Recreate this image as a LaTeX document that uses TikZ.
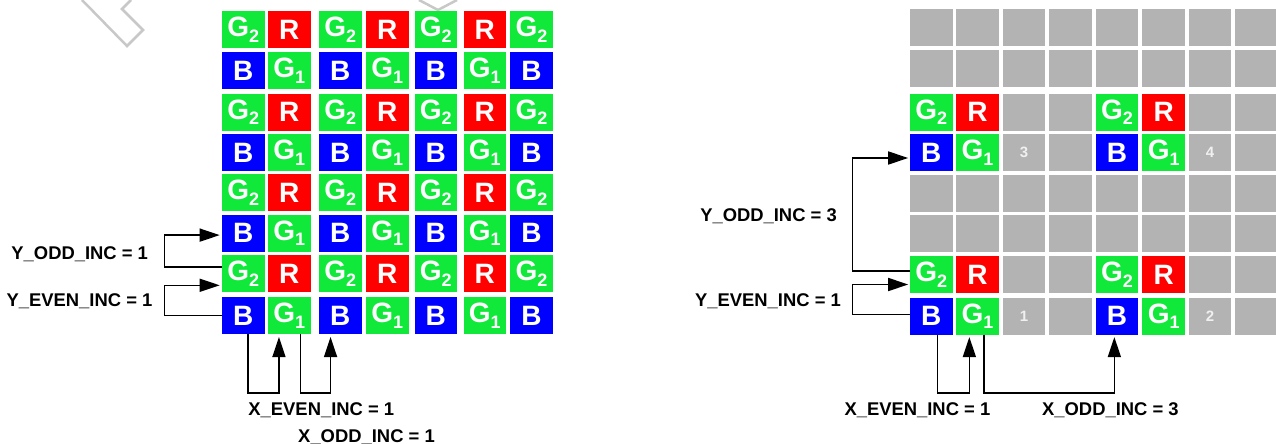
\documentclass[tikz,border=0pt]{standalone}
\usepackage{fontspec}
\setmainfont{Liberation Sans}
\usetikzlibrary{arrows.meta}
\definecolor{bgreen}{RGB}{16,232,58}
\definecolor{bred}{RGB}{255,0,0}
\definecolor{bblue}{RGB}{0,0,255}
\definecolor{bgray}{RGB}{179,179,179}
\definecolor{wmgray}{RGB}{200,200,200}
\newcommand\Gs[1]{G\raisebox{-5.5pt}{\fontsize{18}{18}\selectfont #1}}
\tikzset{
  cell/.style={minimum width=42.7pt, minimum height=37.2pt, inner sep=0pt, anchor=north west,
    text=white, font=\fontsize{28}{28}\selectfont\bfseries},
  cg/.style={cell, fill=bgreen},
  cr/.style={cell, fill=bred},
  cb/.style={cell, fill=bblue},
  cgr/.style={cell, fill=bgray, font=\fontsize{15}{15}\selectfont\bfseries, text=white!94!black},
  conn/.style={line width=1.5pt, -{Triangle[length=20pt,width=13pt]}},
  lbl/.style={font=\fontsize{18.4}{18.4}\selectfont\bfseries, anchor=base, inner sep=0pt},
  wm/.style={draw=wmgray, line width=2.5pt}
}
\begin{document}
\begin{tikzpicture}[x=1pt,y=-1pt]
\useasboundingbox (0,0) rectangle (1276,444);
% watermark fragments
\draw[wm] (82,0) -- (127,46) -- (143,30) -- (122,9) -- (131,0);
\draw[wm] (419,0) -- (438,10) -- (457,0);
% ---------- left grid ----------
\foreach \r/\y in {1/10.7,3/93.3,5/174,7/255}{
  \foreach \c/\x in {1/221.7,3/318.8,5/414.3,7/510}{\node[cg] (L\r\c) at (\x,\y) {\Gs{2}};}
  \foreach \c/\x in {2/267.8,4/365.7,6/463.3}{\node[cr] (L\r\c) at (\x,\y) {R};}
}
\foreach \r/\y in {2/51.7,4/134,6/214.3,8/296.7}{
  \foreach \c/\x in {1/221.7,3/318.8,5/414.3,7/510}{\node[cb] (L\r\c) at (\x,\y) {B};}
  \foreach \c/\x in {2/267.8,4/365.7,6/463.3}{\node[cg] (L\r\c) at (\x,\y) {\Gs{1}};}
}
% ---------- right grid ----------
\foreach \r/\y in {1/9,2/50,5/174.7,6/215}{
  \foreach \c/\x in {1/909.7,2/956,3/1002.4,4/1049.1,5/1095.5,6/1142.2,7/1188.5,8/1234.8}{
    \node[cgr] (R\r\c) at (\x,\y) {};}
}
\foreach \r/\y in {3/93.3,7/256}{
  \foreach \c/\x in {1/909.7,5/1095.5}{\node[cg] (R\r\c) at (\x,\y) {\Gs{2}};}
  \foreach \c/\x in {2/956,6/1142.2}{\node[cr] (R\r\c) at (\x,\y) {R};}
  \foreach \c/\x in {3/1002.4,4/1049.1,7/1188.5,8/1234.8}{\node[cgr] (R\r\c) at (\x,\y) {};}
}
\foreach \r/\y/\na/\nb in {4/134/3/4,8/297.3/1/2}{
  \foreach \c/\x in {1/909.7,5/1095.5}{\node[cb] (R\r\c) at (\x,\y) {B};}
  \foreach \c/\x in {2/956,6/1142.2}{\node[cg] (R\r\c) at (\x,\y) {\Gs{1}};}
  \node[cgr] (R\r3) at (1002.4,\y) {\na};
  \node[cgr] (R\r4) at (1049.1,\y) {};
  \node[cgr] (R\r7) at (1188.5,\y) {\nb};
  \node[cgr] (R\r8) at (1234.8,\y) {};
}
% ---------- left connectors ----------
\draw[conn, shorten >=2pt] ([yshift=6.8pt]L71.west) -- ++(-57.4,0) |- ([yshift=-2pt]L61.west);
\draw[conn, shorten >=2pt] ([yshift=0pt]L81.west) -- ++(-57.4,0) |- ([yshift=-11.5pt]L71.west);
\draw[conn, shorten >=2.7pt] ([xshift=4.5pt]L81.south) -- ++(0,58.7) -| ([xshift=-10.4pt]L82.south);
\draw[conn, shorten >=2.7pt] ([xshift=11pt]L82.south) -- ++(0,58.7) -| ([xshift=-9.8pt]L83.south);
% ---------- right connectors ----------
\draw[conn, shorten >=1.5pt] ([yshift=4pt]R71.west) -- ++(-57.4,0) |- ([yshift=-5.2pt]R41.west);
\draw[conn, shorten >=1.5pt] ([yshift=1.4pt]R81.west) -- ++(-57.4,0) |- ([yshift=-9.7pt]R71.west);
\draw[conn, shorten >=2.2pt] ([xshift=6.4pt]R81.south) -- ++(0,58.2) -| ([xshift=-8.2pt]R82.south);
\draw[conn, shorten >=2.2pt] ([xshift=6.4pt]R82.south) -- ++(0,58.2) -| ([xshift=-2.7pt]R85.south);
% ---------- labels ----------
\node[lbl] (lyodd) at (79.7,259) {Y\_ODD\_INC = 1};
\node[lbl] (lyeven) at (79.5,306) {Y\_EVEN\_INC = 1};
\node[lbl] (lxeven) at (321.3,415) {X\_EVEN\_INC = 1};
\node[lbl] (lxodd) at (366.5,442) {X\_ODD\_INC = 1};
\node[lbl] (ryodd) at (768.5,221) {Y\_ODD\_INC = 3};
\node[lbl] (ryeven) at (768,306) {Y\_EVEN\_INC = 1};
\node[lbl] (rxeven) at (917.4,415) {X\_EVEN\_INC = 1};
\node[lbl] (rxodd) at (1110.4,415) {X\_ODD\_INC = 3};
\end{tikzpicture}
\end{document}
